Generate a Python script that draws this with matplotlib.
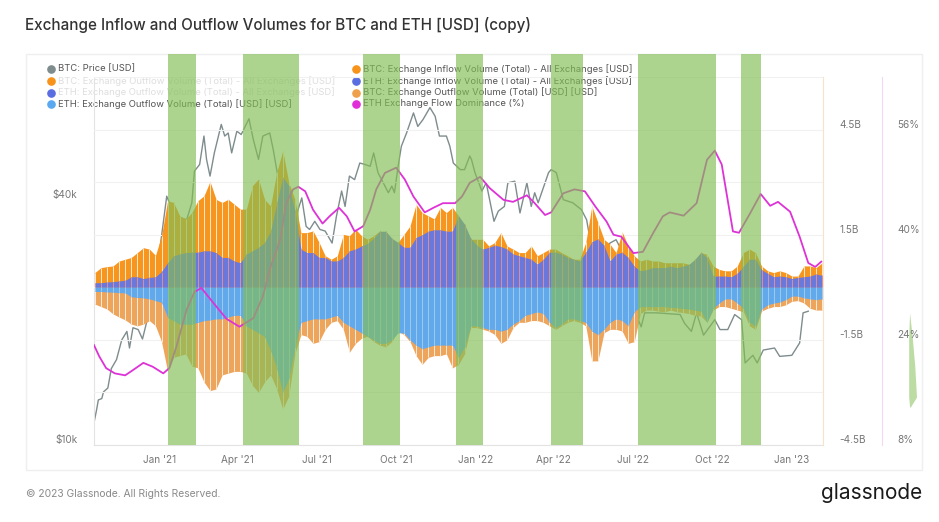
import numpy as np
import pandas as pd
import matplotlib
matplotlib.use("Agg")
import matplotlib.pyplot as plt
from matplotlib.patches import Rectangle

plt.rcParams["font.family"] = ["Inter", "DejaVu Sans"]

W, H = 939, 522
T0 = pd.Timestamp("2021-01-01")

# weekly volumes, billions of USD
week_start = "2020-10-18"
btc_inflow = [
    .42, .56, .59, .61, .75, .80, .85, .99, 1.13, 1.09,
    .91, 1.47, 2.47, 2.42, 2.04, 1.95, 2.13, 2.47, 2.61, 3.02,
    2.51, 2.42, 2.51, 2.37, 2.23, 2.23, 2.90, 3.09, 2.51, 2.32,
    3.28, 3.90, 2.99, 2.51, 1.56, 1.56, 1.61, 1.28, .90, .80,
    .90, 1.51, 1.47, 1.66, 1.47, 1.37, 1.47, 1.61, 1.47, 1.37,
    1.28, 1.51, 1.75, 2.37, 2.13, 2.04, 1.95, 2.28, 2.13, 2.28,
    2.04, 1.66, 1.37, 1.37, 1.37, 1.18, 1.28, 1.56, 1.18, 1.09,
    .99, .99, 1.18, .90, .99, 1.09, 1.09, .99, .90, .80,
    .80, 1.28, 2.32, 1.85, 1.37, 1.23, .99, 1.58, 1.18, .90,
    .75, .80, .75, .75, .70, .70, .70, .70, .66, .70,
    .99, .94, .61, .51, .47, .47, .61, .99, 1.09, .99,
    .61, .47, .42, .47, .42, .32, .32, .61, .61, .56,
    .70,
]
eth_inflow = [
    .13, .13, .15, .16, .18, .20, .30, .30, .25, .28,
    .30, .45, .70, .90, .95, .99, 1.0, 1.0, 1.04, 1.04,
    .99, .85, .85, .75, .70, .95, 1.04, 1.14, 1.28, 1.6,
    2.4, 3.15, 2.9, 2.2, 1.09, .99, .99, .85, .85, .75,
    .75, .85, 1.04, 1.09, 1.18, 1.25, 1.4, 1.6, 1.6, 1.4,
    1.28, 1.14, 1.14, 1.42, 1.5, 1.6, 1.64, 1.64, 1.6, 1.6,
    2.04, 1.8, 1.4, 1.2, 1.09, 1.14, 1.2, 1.16, 1.09, .95,
    .9, .85, .8, .66, .8, 1.0, 1.0, .95, .85, .8,
    .75, 1.0, 1.3, 1.38, 1.2, .75, .95, 1.0, .85, .6,
    .47, .5, .56, .56, .56, .6, .56, .6, .65, .8,
    1.0, .85, .32, .32, .32, .3, .4, .6, .8, .8,
    .5, .4, .3, .32, .3, .25, .28, .3, .32, .38,
    .34,
]
btc_outflow = [
    .48, .55, .62, .76, .85, .93, 1.05, 1.1, 1.05, .95,
    1.1, 1.55, 2.4, 2.0, 1.95, 1.9, 2.25, 2.3, 2.7, 2.95,
    2.9, 2.5, 2.45, 2.4, 2.4, 2.45, 2.8, 3.0, 2.7, 2.5,
    2.9, 3.48, 3.1, 1.9, 1.35, 1.4, 1.6, 1.55, 1.2, 1.0,
    .95, 1.2, 1.85, 1.6, 1.45, 1.4, 1.55, 1.65, 1.7, 1.55,
    1.25, 1.35, 1.55, 1.95, 2.2, 2.0, 1.95, 1.95, 1.9, 2.3,
    2.2, 1.9, 1.15, 1.15, 1.2, 1.25, 1.35, 1.6, 1.5, 1.15,
    1.0, 1.0, .95, .95, 1.0, 1.1, 1.2, 1.1, 1.0, .95,
    1.0, 1.1, 2.1, 2.1, 1.3, 1.2, 1.2, 1.25, 1.6, 1.55,
    .75, .65, .65, .68, .7, .65, .7, .72, .75, .8,
    .82, 1.0, .65, .55, .55, .6, .65, .7, 1.1, 1.2,
    .68, .6, .55, .55, .5, .4, .38, .45, .6, .65,
    .65,
]
eth_outflow = [
    .12, .12, .13, .14, .15, .16, .27, .29, .3, .33,
    .38, .43, .86, .95, 1.05, 1.05, 1.05, 1.0, .95, .93,
    .9, .9, .85, .8, .8, 1.1, 1.2, 1.3, 1.4, 1.8,
    2.3, 3.0, 2.6, 1.7, 1.0, .95, .9, .9, .9, .85,
    .8, 1.0, 1.1, 1.2, 1.3, 1.4, 1.5, 1.6, 1.6, 1.5,
    1.3, 1.3, 1.5, 1.65, 1.75, 1.7, 1.65, 1.65, 1.65, 1.65,
    2.0, 1.7, 1.1, 1.1, 1.15, 1.2, 1.2, 1.25, 1.2, 1.05,
    .95, .8, .75, .7, .75, 1.0, 1.15, 1.05, .9, .9,
    .95, 1.0, 1.25, 1.35, 1.2, 1.0, .9, .95, 1.1, .7,
    .55, .55, .55, .55, .55, .57, .58, .6, .62, .65,
    .68, 1.0, .6, .45, .33, .33, .45, .6, 1.0, 1.1,
    .62, .5, .45, .42, .35, .25, .25, .3, .33, .35,
    .33,
]

# days since 1 Jan 2021, price in thousands of USD
price_days = [
    -76, -73, -71, -67, -65, -60, -56, -50, -44, -38, -35, -31, -25, -20, -15, -4, 8,
    11, 19, 31, 37, 40, 46, 51, 54, 58, 63, 71, 75, 79, 83, 89, 94, 103, 108, 114,
    119, 127, 131, 137, 142, 150, 156, 164, 169, 173, 179, 185, 191, 199, 204, 210,
    214, 219, 225, 231, 237, 243, 247, 252, 264, 268, 271, 275, 279, 285, 293, 298,
    304, 312, 318, 323, 331, 335, 339, 347, 352, 358, 360, 364, 372, 377, 386, 391,
    398, 402, 410, 416, 424, 429, 433, 437, 449, 452, 458, 466, 477, 487, 493, 497,
    510, 520, 527, 539, 546, 551, 556, 560, 574, 601, 606, 614, 620, 628, 641, 647,
    656, 664, 672, 676, 685, 690, 697, 710, 716, 730, 739, 743, 749,
]
price_k = [
    11.35, 12.2, 12.9, 13.0, 13.5, 13.8, 15.4, 16.2, 18.1, 19.0, 17.3, 19.4, 19.2, 18.2, 20.1, 26.0, 40.8,
    39.3, 36.4, 35.7, 39.3, 47.0, 48.8, 57.3, 50.2, 45.7, 52.1, 61.2, 57.3, 58.3, 52.1, 58.9, 57.8, 63.2, 56.2, 50.2,
    57.3, 58.3, 53.1, 44.8, 40.7, 37.0, 35.7, 40.4, 34.4, 33.8, 35.4, 33.8, 33.5, 31.3, 36.4, 42.0,
    38.5, 45.7, 44.8, 49.2, 48.8, 48.3, 52.1, 46.6, 41.6, 43.2, 41.6, 47.9, 54.1, 58.3, 65.3, 60.5,
    62.9, 67.3, 64.1, 57.3, 57.3, 54.1, 49.2, 47.4, 47.4, 51.2, 50.2, 46.6, 42.0, 44.0, 35.4, 37.5,
    38.5, 44.0, 44.4, 37.1, 44.0, 38.5, 41.6, 39.3, 46.6, 47.4, 46.6, 40.0, 39.3, 37.8, 35.7, 31.9,
    30.0, 31.3, 31.9, 28.5, 19.4, 20.7, 19.5, 21.1, 21.1, 20.9, 19.9, 19.0, 21.1, 18.6, 20.3, 19.2,
    19.2, 20.9, 20.3, 15.9, 16.6, 15.9, 17.1, 17.3, 16.5, 16.6, 17.8, 21.1, 21.3,
]

dominance_days = [
    -76, -70, -62, -52, -40, -31, -19, -8, 4, 11, 19, 31, 40, 48, 62, 77, 92, 108, 119, 127,
    139, 146, 154, 160, 168, 177, 188, 196, 207, 216, 225, 235, 243, 250, 260, 273, 283, 293,
    306, 316, 327, 341, 349, 358, 370, 381, 397, 408, 424, 433, 445, 452, 466, 479, 491, 503,
    516, 524, 533, 547, 558, 570, 581, 589, 605, 620, 632, 641, 649, 662, 669, 682, 694, 705,
    714, 728, 739, 749, 757, 764,
]
dominance_pct = [
    23.2, 21.5, 19.7, 18.9, 18.6, 19.4, 20.5, 19.9, 18.9, 19.7, 22.9, 28.6, 31.3, 31.9, 29.6, 27.2, 26.0, 27.3, 30.6, 34.7,
    39.2, 44.8, 46.9, 47.3, 46.6, 43.8, 41.7, 42.8, 44.1, 42.8, 40.5, 41.3, 43.8, 46.9, 49.4, 50.2, 48.4, 45.8,
    43.4, 44.1, 44.8, 44.8, 45.8, 47.9, 48.8, 47.1, 45.3, 45.0, 46.0, 44.8, 43.0, 43.4, 46.3, 46.9, 46.6, 44.3,
    42.0, 40.0, 39.7, 37.2, 37.4, 40.3, 42.8, 43.4, 42.9, 44.8, 51.4, 52.8, 50.7, 40.5, 40.3, 43.3, 46.2, 44.4,
    45.0, 43.5, 39.7, 35.7, 35.1, 35.9,
]

band_starts = ["2021-01-11", "2021-04-07", "2021-08-24", "2021-12-09", "2022-03-29", "2022-07-07", "2022-11-03"]
band_ends = ["2021-02-12", "2021-06-11", "2021-10-06", "2022-01-09", "2022-05-05", "2022-10-05", "2022-11-26"]

tick_dates = ["2021-01-01", "2021-04-01", "2021-07-01", "2021-10-01", "2022-01-01",
              "2022-04-01", "2022-07-01", "2022-10-01", "2023-01-01"]
tick_labels = ["Jan '21", "Apr '21", "Jul '21", "Oct '21", "Jan '22",
               "Apr '22", "Jul '22", "Oct '22", "Jan '23"]

# stray green sliver right of the percent axis
sliver_pct = [28.1, 24.5, 20.0, 15.3, 13.8]
sliver_left = [866, 865, 865, 865, 866]
sliver_right = [866, 869, 872, 874, 867]

legend_left = [("BTC: Price [USD]", "#7f8c8d", True),
               ("BTC: Exchange Outflow Volume (Total) - All Exchanges [USD]", "#f7931a", False),
               ("ETH: Exchange Outflow Volume (Total) - All Exchanges [USD]", "#5b6ee1", False),
               ("ETH: Exchange Outflow Volume (Total) [USD] [USD]", "#5aa9f0", True)]
legend_right = [("BTC: Exchange Inflow Volume (Total) - All Exchanges [USD]", "#f7931a", True),
                ("ETH: Exchange Inflow Volume (Total) - All Exchanges [USD]", "#5b6ee1", True),
                ("BTC: Exchange Outflow Volume (Total) [USD] [USD]", "#efa04a", True),
                ("ETH Exchange Flow Dominance (%)", "#e02fd8", True)]


def fx(px):
    return px / W


def fy(py):
    return 1 - py / H


def to_dates(days):
    return T0 + pd.to_timedelta(np.array(days, dtype=float), unit="D")


fig = plt.figure(figsize=(W / 100, H / 100), dpi=100, facecolor="white")
fig.add_artist(Rectangle((fx(26), fy(470)), fx(896), 416 / H, transform=fig.transFigure,
                         fc="white", ec="#efefef", lw=1, zorder=-5))

rect = [fx(94), fy(445), fx(729), 368 / H]
ax_price = fig.add_axes(rect, zorder=1)
ax_vol = fig.add_axes(rect, zorder=2)
ax_pct = fig.add_axes(rect, zorder=3)
for a in (ax_price, ax_vol, ax_pct):
    a.patch.set_alpha(0)

xlim = to_dates([-76, 766])
weeks = pd.date_range(week_start, periods=len(btc_inflow), freq="7D")

ax_price.plot(to_dates(price_days), np.array(price_k) * 1000, color="#7f8c8d", lw=1.0)
ax_price.set_yscale("log")
ax_price.set_ylim(10000, 80000)
ax_price.set_yticks([10000, 40000])
ax_price.set_yticklabels(["$10k", "$40k"])
ax_price.minorticks_off()
ax_price.yaxis.set_tick_params(length=0, pad=12, labelsize=7.2, labelcolor="#777777")
for lab in ax_price.get_yticklabels():
    lab.set_va("bottom")

# the weekly columns read as an area with thin pale stripes between them
out_btc = -np.array(btc_outflow)
out_eth = -np.array(eth_outflow)
ax_vol.fill_between(weeks, 0, btc_inflow, color="#f7961f", lw=0, zorder=2)
ax_vol.vlines(weeks, 0, btc_inflow, color="#fde7cb", lw=0.7, zorder=2.1)
ax_vol.fill_between(weeks, 0, eth_inflow, color="#6a78dc", lw=0, zorder=2.2)
ax_vol.vlines(weeks, 0, eth_inflow, color="#d98f9a", lw=0.7, zorder=2.3)
ax_vol.fill_between(weeks, 0, out_btc, color="#eda55c", lw=0, zorder=2)
ax_vol.vlines(weeks, 0, out_btc, color="#fbeadb", lw=0.7, zorder=2.1)
ax_vol.fill_between(weeks, 0, out_eth, color="#62a9ec", lw=0, zorder=2.2)
ax_vol.vlines(weeks, 0, out_eth, color="#9cc9f0", lw=0.7, zorder=2.3)
ax_vol.set_ylim(-4.5, 6.0)
ax_vol.yaxis.tick_right()
ax_vol.set_yticks([-4.5, -1.5, 1.5, 4.5])
ax_vol.set_yticklabels(["-4.5B", "-1.5B", "1.5B", "4.5B"])
ax_vol.set_yticks([-3, 0, 3, 6], minor=True)
ax_vol.yaxis.set_tick_params(which="both", length=0)
ax_vol.yaxis.set_tick_params(pad=12, labelsize=7.2, labelcolor="#777777")
ax_vol.grid(True, axis="y", which="both", color="#f1f1f1", lw=0.8)
ax_vol.set_axisbelow(True)
for lab in ax_vol.get_yticklabels():
    lab.set_va("bottom")

ax_pct.plot(to_dates(dominance_days), dominance_pct, color="#dd33d6", lw=1.3, zorder=2)
for start, end in zip(band_starts, band_ends):
    ax_pct.axvspan(pd.Timestamp(start), pd.Timestamp(end), ymin=0, ymax=391 / 368,
                   color="#82be53", alpha=0.65, lw=0, zorder=5, clip_on=False)
ax_pct.fill_betweenx(sliver_pct, to_dates(sliver_left), to_dates(sliver_right),
                     color="#bcdca3", lw=0, clip_on=False)
ax_pct.set_ylim(8, 64)
ax_pct.yaxis.tick_right()
ax_pct.spines["right"].set_position(("outward", 59 * 0.72))
ax_pct.set_yticks([8, 24, 40, 56])
ax_pct.set_yticklabels(["8%", "24%", "40%", "56%"])
ax_pct.yaxis.set_tick_params(length=0, pad=11, labelsize=7.2, labelcolor="#777777")
for lab in ax_pct.get_yticklabels():
    lab.set_va("bottom")

for a in (ax_price, ax_vol, ax_pct):
    a.set_xlim(xlim[0], xlim[1])
    a.set_xticks(pd.to_datetime(tick_dates))
    a.set_xticklabels(tick_labels)
    a.xaxis.set_tick_params(length=0, pad=7, labelsize=7.2, labelcolor="#777777")
    for s in a.spines.values():
        s.set_visible(False)
ax_vol.tick_params(axis="x", labelbottom=False)
ax_pct.tick_params(axis="x", labelbottom=False)

ax_price.spines["left"].set_visible(True)
ax_price.spines["left"].set_color("#e3e3e3")
ax_price.spines["bottom"].set_visible(True)
ax_price.spines["bottom"].set_color("#e3e3e3")
ax_vol.spines["right"].set_visible(True)
ax_vol.spines["right"].set_color("#f7e3c8")
ax_pct.spines["right"].set_visible(True)
ax_pct.spines["right"].set_color("#f3d8f1")

# legend sits under the green bands, so it is plain figure text
rows = [69, 81, 92.5, 104]
for col_x, entries in ((51, legend_left), (356, legend_right)):
    for py, (label, colour, active) in zip(rows, entries):
        fig.add_artist(plt.Line2D([fx(col_x)], [fy(py)], marker="o", ms=5.2, color=colour, lw=0,
                                  transform=fig.transFigure, zorder=-1))
        fig.text(fx(col_x + 7), fy(py), label, fontsize=6.8, va="center",
                 color="#555555" if active else "#dedede", zorder=-1)

fig.text(fx(25), fy(25), "Exchange Inflow and Outflow Volumes for BTC and ETH [USD] (copy)",
         fontsize=10.95, fontweight="medium", color="#333333", va="center")
fig.text(fx(26), fy(494), "\u00a9 2023 Glassnode. All Rights Reserved.",
         fontsize=7.45, color="#8a8a8a", va="center")
fig.text(fx(922), fy(493), "glassnode", fontsize=15, color="#1a1a1a", va="center", ha="right")

fig.savefig("out.png", dpi=100)
plt.close(fig)
